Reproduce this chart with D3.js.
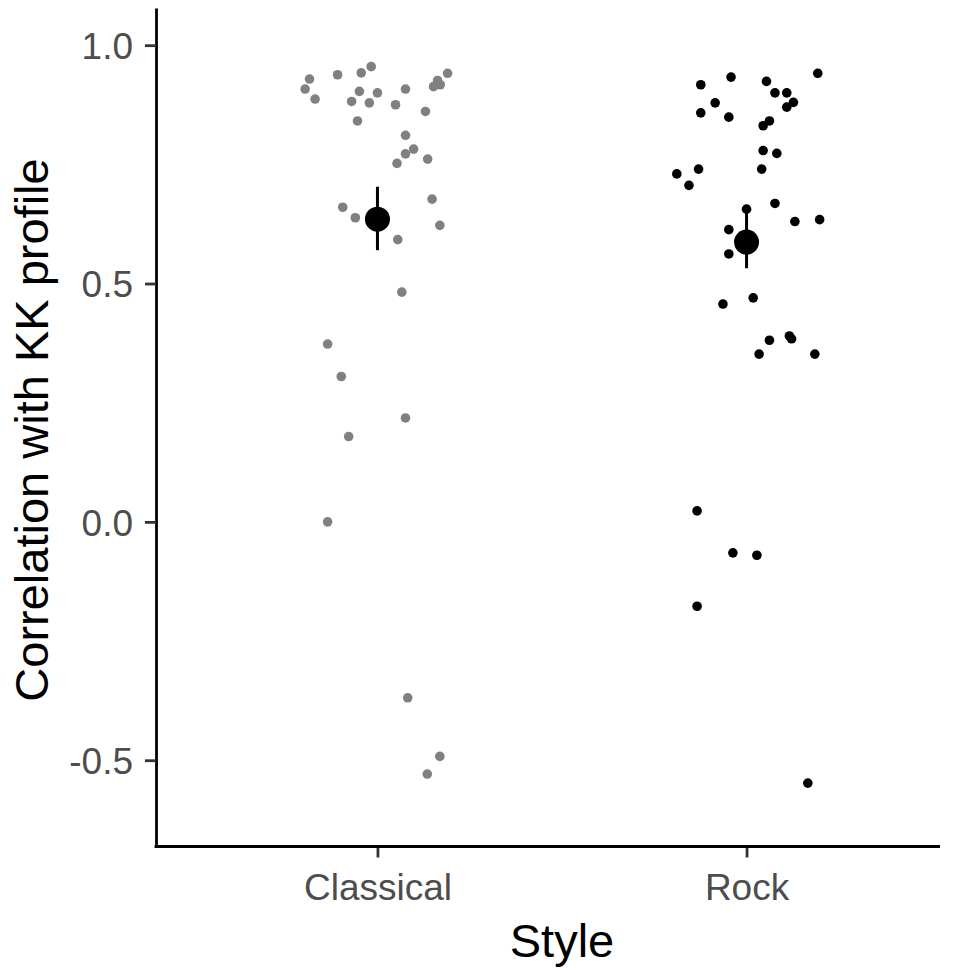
<!DOCTYPE html>
<html>
<head>
<meta charset="utf-8">
<script src="https://d3js.org/d3.v7.min.js"></script>
<style>
  body { margin: 0; background: #fff; font-family: "Liberation Sans", Arial, sans-serif; }
</style>
</head>
<body>
<div id="chart"></div>
<script>
// categories
var styles = ["Classical", "Rock"];

// individual correlations and horizontal jitter (in category units)
var classicalValues = [0.929, 0.908, 0.887, 0.938, 0.942, 0.955, 0.903, 0.900, 0.882, 0.879,
  0.841, 0.908, 0.875, 0.861, 0.926, 0.913, 0.917, 0.941, 0.811, 0.782,
  0.772, 0.752, 0.761, 0.660, 0.638, 0.592, 0.677, 0.622, 0.482, 0.373,
  0.305, 0.218, 0.179, 0.000, -0.369, -0.492, -0.529];
var classicalJitter = [-0.184, -0.196, -0.169, -0.108, -0.044, -0.017, -0.049, 0.000, -0.070, -0.022,
  -0.054, 0.076, 0.049, 0.130, 0.163, 0.152, 0.170, 0.190, 0.076, 0.098,
  0.076, 0.053, 0.136, -0.094, -0.060, 0.055, 0.148, 0.169, 0.066, -0.135,
  -0.098, 0.076, -0.078, -0.135, 0.082, 0.169, 0.135];

var rockValues = [0.941, 0.933, 0.917, 0.924, 0.900, 0.900, 0.880, 0.870, 0.879, 0.858,
  0.849, 0.841, 0.831, 0.779, 0.773, 0.740, 0.730, 0.740, 0.706, 0.668,
  0.656, 0.630, 0.634, 0.613, 0.562, 0.470, 0.457, 0.381, 0.390, 0.384,
  0.352, 0.352, 0.023, -0.065, -0.070, -0.177, -0.548];
var rockJitter = [0.193, -0.042, -0.124, 0.054, 0.077, 0.109, 0.127, 0.109, -0.085, -0.124,
  -0.048, 0.062, 0.045, 0.045, 0.082, 0.041, -0.189, -0.130, -0.156, 0.077,
  0.000, 0.131, 0.198, -0.048, -0.048, 0.018, -0.064, 0.062, 0.116, 0.122,
  0.034, 0.185, -0.134, -0.037, 0.028, -0.134, 0.166];

// summary: mean with interval
var means = [0.635, 0.587];
var lower = [0.570, 0.532];
var upper = [0.703, 0.656];

var yTicks = [-0.5, 0.0, 0.5, 1.0];
var yTickLabels = ["-0.5", "0.0", "0.5", "1.0"];

var width = 956, height = 970;
var plotLeft = 156, plotRight = 968, axisEnd = 940, plotTop = 8, plotBottom = 846.5;

var svg = d3.select("#chart").append("svg")
  .attr("width", width)
  .attr("height", height);

var x = d3.scalePoint().domain(styles).range([plotLeft, plotRight]).padding(0.6);
var y = d3.scaleLinear().domain([-0.681, 1.078]).range([plotBottom, plotTop]);

var points = [];
classicalValues.forEach(function(v, i) { points.push({style: "Classical", value: v, jit: classicalJitter[i]}); });
rockValues.forEach(function(v, i) { points.push({style: "Rock", value: v, jit: rockJitter[i]}); });

var colour = d3.scaleOrdinal().domain(styles).range(["#808080", "#000000"]);

// jittered points
svg.append("g").selectAll("circle")
  .data(points)
  .enter().append("circle")
  .attr("cx", function(d) { return x(d.style) + d.jit * x.step(); })
  .attr("cy", function(d) { return y(d.value); })
  .attr("r", 4.8)
  .attr("fill", function(d) { return colour(d.style); });

// mean + interval
var summary = styles.map(function(s, i) { return {style: s, mean: means[i], lo: lower[i], hi: upper[i]}; });
var sg = svg.append("g");
sg.selectAll("line")
  .data(summary)
  .enter().append("line")
  .attr("x1", function(d) { return x(d.style); })
  .attr("x2", function(d) { return x(d.style); })
  .attr("y1", function(d) { return y(d.lo); })
  .attr("y2", function(d) { return y(d.hi); })
  .attr("stroke", "#000")
  .attr("stroke-width", 3);
sg.selectAll("circle")
  .data(summary)
  .enter().append("circle")
  .attr("cx", function(d) { return x(d.style); })
  .attr("cy", function(d) { return y(d.mean); })
  .attr("r", 12.5)
  .attr("fill", "#000");

// y axis
var yAxis = svg.append("g")
  .attr("transform", "translate(" + plotLeft + ",0)")
  .call(d3.axisLeft(y).tickValues(yTicks)
    .tickFormat(function(d, i) { return yTickLabels[i]; })
    .tickSize(11).tickPadding(12).tickSizeOuter(0));
yAxis.select(".domain").attr("stroke", "#000").attr("stroke-width", 2.8);
yAxis.selectAll(".tick line").attr("stroke", "#333").attr("stroke-width", 2.8);
yAxis.selectAll(".tick text")
  .attr("fill", "#4d4d4d")
  .style("font-size", "37px")
  .style("font-family", "'Liberation Sans', Arial, sans-serif")
  .attr("dy", "0.36em");

// x axis
var xAxis = svg.append("g")
  .attr("transform", "translate(0," + plotBottom + ")")
  .call(d3.axisBottom(x).tickSize(11).tickPadding(16).tickSizeOuter(0));
xAxis.select(".domain").remove();
xAxis.append("line")
  .attr("x1", plotLeft - 1.4).attr("x2", axisEnd)
  .attr("stroke", "#000").attr("stroke-width", 2.8);
xAxis.selectAll(".tick line").attr("stroke", "#333").attr("stroke-width", 2.8);
xAxis.selectAll(".tick text")
  .attr("fill", "#4d4d4d")
  .style("font-size", "37px")
  .style("font-family", "'Liberation Sans', Arial, sans-serif")
  .attr("dy", "0.71em");

// titles
svg.append("text")
  .attr("x", (x("Classical") + x("Rock")) / 2)
  .attr("y", 957)
  .attr("text-anchor", "middle")
  .style("font-size", "47px")
  .style("font-family", "'Liberation Sans', Arial, sans-serif")
  .attr("fill", "#000")
  .text("Style");

svg.append("text")
  .attr("transform", "translate(48," + 430 + ") rotate(-90)")
  .attr("text-anchor", "middle")
  .style("font-size", "47px")
  .style("font-family", "'Liberation Sans', Arial, sans-serif")
  .attr("fill", "#000")
  .text("Correlation with KK profile");
</script>
</body>
</html>
